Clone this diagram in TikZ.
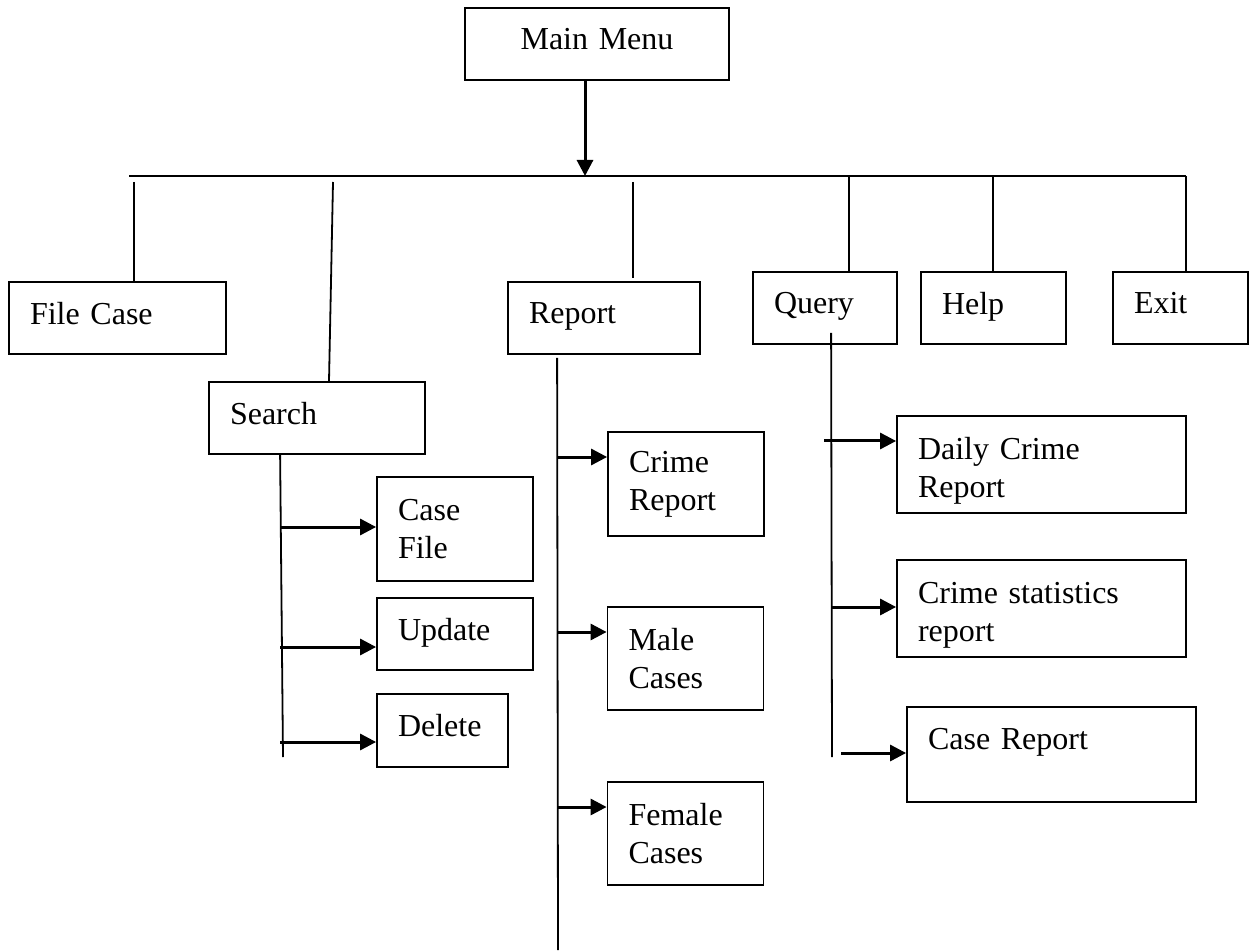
\documentclass[tikz,border=0pt]{standalone}
\usepackage{fontspec}
\setmainfont{Liberation Serif}
\usetikzlibrary{arrows.meta}

\tikzset{
  menubox/.style={draw, line width=0.9pt, inner xsep=10.5pt, inner ysep=0pt,
    align=left, font=\fontsize{16}{19}\selectfont},
  oneline/.style={menubox, text depth=4.8pt},
  link/.style={line width=0.9pt},
  arr/.style={line width=1.5pt, -{Triangle[length=8pt,width=8pt]}}
}

\begin{document}
\begin{tikzpicture}[x=0.5pt, y=-0.5pt]
\useasboundingbox (0,0) rectangle (1251,951);

% draw the main menu box
\draw (597,44) node[oneline, align=center, text width=111pt, minimum height=36pt] (mainmenu) {Main Menu};

% draw nodes of the first level
\draw (117.5,318) node[oneline, text width=87.5pt, minimum height=36pt] (filecase) {File Case};
\draw (317,418) node[oneline, text width=87pt, minimum height=36pt] (search) {Search};
\draw (604,318) node[oneline, text width=75pt, minimum height=36pt] (report) {Report};
\draw (825,308) node[oneline, text width=51pt, minimum height=36pt] (query) {Query};
\draw (993.5,308) node[oneline, text width=51.5pt, minimum height=36pt] (help) {Help};
\draw (1180.5,308) node[oneline, text width=46.5pt, minimum height=36pt] (exit) {Exit};

% draw nodes under search
\draw (455,529) node[menubox, text width=57pt, minimum height=52pt] (casefile) {Case\\File};
\draw (455,634) node[oneline, text width=57pt, minimum height=36pt] (update) {Update};
\draw (442.5,730.5) node[oneline, text width=44.5pt, minimum height=36.5pt] (delete) {Delete};

% draw nodes under report
\draw (686,484) node[menubox, text width=57pt, minimum height=52pt] (crimereport) {Crime\\Report};
\draw (685.5,658.5) node[menubox, text width=57pt, minimum height=51.5pt] (male) {Male\\Cases};
\draw (685.5,833.5) node[menubox, text width=57pt, minimum height=51.5pt] (female) {Female\\Cases};

% draw nodes under query
\draw (1041.5,464.5) node[menubox, text width=123.5pt, minimum height=48.5pt, text height=17pt] (daily) {Daily Crime\\Report};
\draw (1041.5,608.5) node[menubox, text width=123.5pt, minimum height=48.5pt, text height=17pt] (stats) {Crime statistics\\report};
\draw (1051.5,754.5) node[oneline, text width=123.5pt, minimum height=47.5pt, text depth=16pt] (casereport) {Case Report};

% draw the horizontal line and the arrow into it
\coordinate (busL) at (129,176);
\coordinate (busR) at (1186,176);
\coordinate (hub) at (585,176);
\draw[link] (busL) -- (busR);
\draw[arr] (mainmenu.south -| hub) -- (hub);

% draw vertical lines down to the first level
\coordinate (fcTop) at (134,182);
\coordinate (srTop) at (333,182);
\coordinate (rpTop) at (633,182);
\draw[link] (fcTop) -- (filecase.north -| fcTop);
\draw[link] (srTop) -- ([xshift=6pt]search.north);
\draw[link] (rpTop) -- ([yshift=1.5pt]report.north -| rpTop);
\foreach \n/\x in {query/849,help/993,exit/1186}
\draw[link] (\x,176) -- (\n.north -| \x,176);

% draw the lines below search, report and query
\coordinate (srEnd) at (283,757);
\coordinate (rpEnd) at (558,950);
\coordinate (qrEnd) at (832,757);
\draw[link] ([xshift=36pt]search.south west) -- (srEnd);
\draw[link] ([xshift=25pt,yshift=-1.5pt]report.south west) -- (rpEnd);
\draw[link] ([xshift=39.5pt,yshift=6pt]query.south west) -- (qrEnd);

% draw arrows to the sub menus
\foreach \n/\y in {casefile/527,update/647,delete/742}
\draw[arr] (280,\y) -- (\n.west |- 280,\y);
\foreach \n/\y in {crimereport/457,male/632,female/807}
\draw[arr] (558,\y) -- (\n.west |- 558,\y);
\foreach \n/\x/\y in {daily/824/441,stats/832/607,casereport/841/753}
\draw[arr] (\x,\y) -- (\n.west |- \x,\y);
\end{tikzpicture}
\end{document}
